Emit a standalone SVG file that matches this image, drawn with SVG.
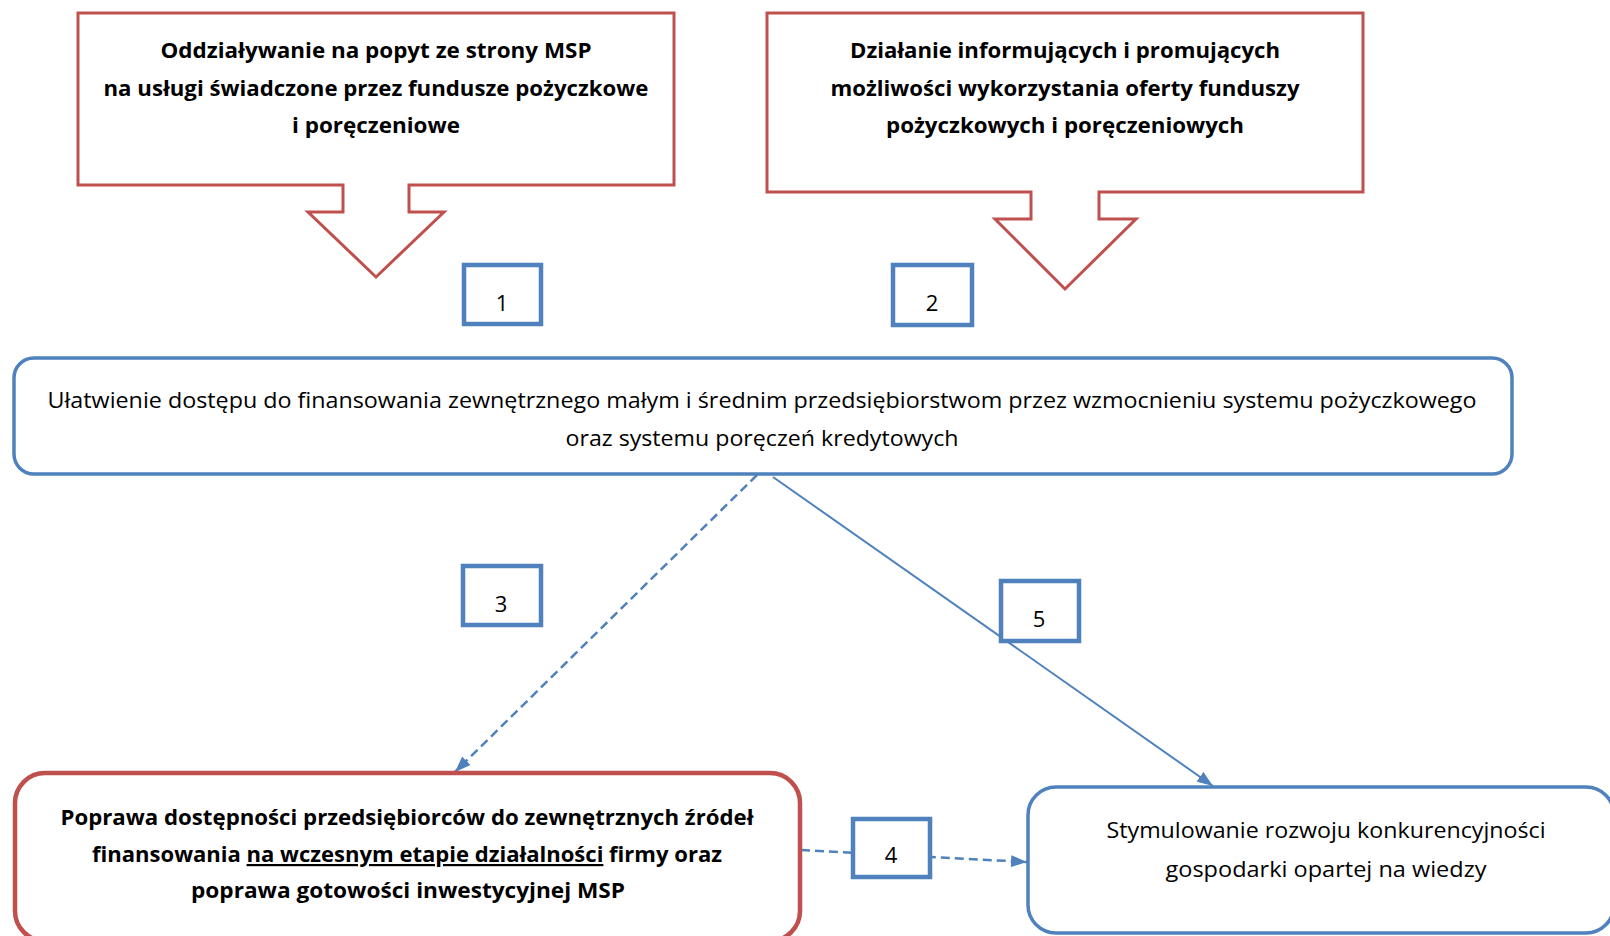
<svg xmlns="http://www.w3.org/2000/svg" width="1610" height="936" viewBox="0 0 1610 936">
<style>
  .red { fill: #ffffff; stroke: #C0504D; stroke-width: 3; }
  .redb { fill: #ffffff; stroke: #C0504D; stroke-width: 4.5; }
  .blue { fill: #ffffff; stroke: #4F81BD; stroke-width: 3.5; }
  .lbl { fill: #ffffff; stroke: #4F81BD; stroke-width: 4.5; }
  .t { font-family: "Open Sans", "Liberation Sans", sans-serif; font-size: 21px; fill: #000000; text-anchor: middle; }
  .b { font-family: "Open Sans", "Liberation Sans", sans-serif; font-size: 22px; font-weight: bold; fill: #000000; text-anchor: middle; }
  .n { font-family: "Open Sans", "Liberation Sans", sans-serif; font-size: 22px; fill: #000000; text-anchor: middle; }
  .dash { fill: none; stroke: #4F81BD; stroke-width: 2.5; stroke-dasharray: 9 5; }
  .solid { fill: none; stroke: #4F81BD; stroke-width: 2; }
</style>
<defs>
  <marker id="arr" markerUnits="userSpaceOnUse" markerWidth="16" markerHeight="12" refX="16" refY="6" orient="auto">
    <path d="M0,0 L16,6 L0,12 z" fill="#4F81BD"/>
  </marker>
</defs>
<rect width="1610" height="936" fill="#ffffff"/>

<g id="connectors">
  <line class="dash" x1="757" y1="475" x2="455" y2="772" marker-end="url(#arr)"/>
  <line class="solid" x1="773" y1="477" x2="1213" y2="786" marker-end="url(#arr)"/>
  <line class="dash" x1="801" y1="850" x2="1027" y2="862" marker-end="url(#arr)"/>
</g>

<g id="node-top-left">
  <polygon class="red" points="78,13 674,13 674,185 409,185 409,212 444,212 376,277 308,212 343,212 343,185 78,185"/>
  <text class="b" x="376" y="58" textLength="431" lengthAdjust="spacingAndGlyphs">Oddziaływanie na popyt ze strony MSP</text>
  <text class="b" x="376" y="96" textLength="545" lengthAdjust="spacingAndGlyphs">na usługi świadczone przez fundusze pożyczkowe</text>
  <text class="b" x="376" y="133" textLength="168" lengthAdjust="spacingAndGlyphs">i poręczeniowe</text>
</g>

<g id="node-top-right">
  <polygon class="red" points="767,13 1363,13 1363,192 1099,192 1099,219 1136,219 1065,289 995,219 1031,219 1031,192 767,192"/>
  <text class="b" x="1065" y="58" textLength="430" lengthAdjust="spacingAndGlyphs">Działanie informujących i promujących</text>
  <text class="b" x="1065" y="96" textLength="469" lengthAdjust="spacingAndGlyphs">możliwości wykorzystania oferty funduszy</text>
  <text class="b" x="1065" y="133" textLength="358" lengthAdjust="spacingAndGlyphs">pożyczkowych i poręczeniowych</text>
</g>

<g id="label-1">
  <rect class="lbl" x="464" y="265" width="77" height="59"/>
  <text class="n" x="502" y="311">1</text>
</g>
<g id="label-2">
  <rect class="lbl" x="893" y="265" width="79" height="60"/>
  <text class="n" x="932" y="311">2</text>
</g>

<g id="node-main">
  <rect class="blue" x="14" y="358" width="1498" height="116" rx="20" ry="20"/>
  <text class="t" x="762" y="408" textLength="1429" lengthAdjust="spacingAndGlyphs">Ułatwienie dostępu do finansowania zewnętrznego małym i średnim przedsiębiorstwom przez wzmocnieniu systemu pożyczkowego</text>
  <text class="t" x="762" y="446" textLength="393" lengthAdjust="spacingAndGlyphs">oraz systemu poręczeń kredytowych</text>
</g>

<g id="label-3">
  <rect class="lbl" x="463" y="566" width="78" height="59"/>
  <text class="n" x="501" y="612">3</text>
</g>
<g id="label-5">
  <rect class="lbl" x="1001" y="581" width="78" height="60"/>
  <text class="n" x="1039" y="627">5</text>
</g>

<g id="node-bottom-left">
  <rect class="redb" x="15" y="773" width="785" height="168" rx="30" ry="30"/>
  <text class="b" x="407" y="825" textLength="693" lengthAdjust="spacingAndGlyphs">Poprawa dostępności przedsiębiorców do zewnętrznych źródeł</text>
  <text class="b" x="407" y="862" textLength="630" lengthAdjust="spacingAndGlyphs">finansowania <tspan text-decoration="underline">na wczesnym etapie działalności</tspan> firmy oraz</text>
  <text class="b" x="408" y="898" textLength="434" lengthAdjust="spacingAndGlyphs">poprawa gotowości inwestycyjnej MSP</text>
</g>

<g id="label-4">
  <rect class="lbl" x="853" y="819" width="77" height="58"/>
  <text class="n" x="891" y="863">4</text>
</g>

<g id="node-bottom-right">
  <rect class="blue" x="1028" y="787" width="586" height="146" rx="28" ry="28"/>
  <text class="t" x="1326" y="838" textLength="439" lengthAdjust="spacingAndGlyphs">Stymulowanie rozwoju konkurencyjności</text>
  <text class="t" x="1326" y="877" textLength="321" lengthAdjust="spacingAndGlyphs">gospodarki opartej na wiedzy</text>
</g>
</svg>
